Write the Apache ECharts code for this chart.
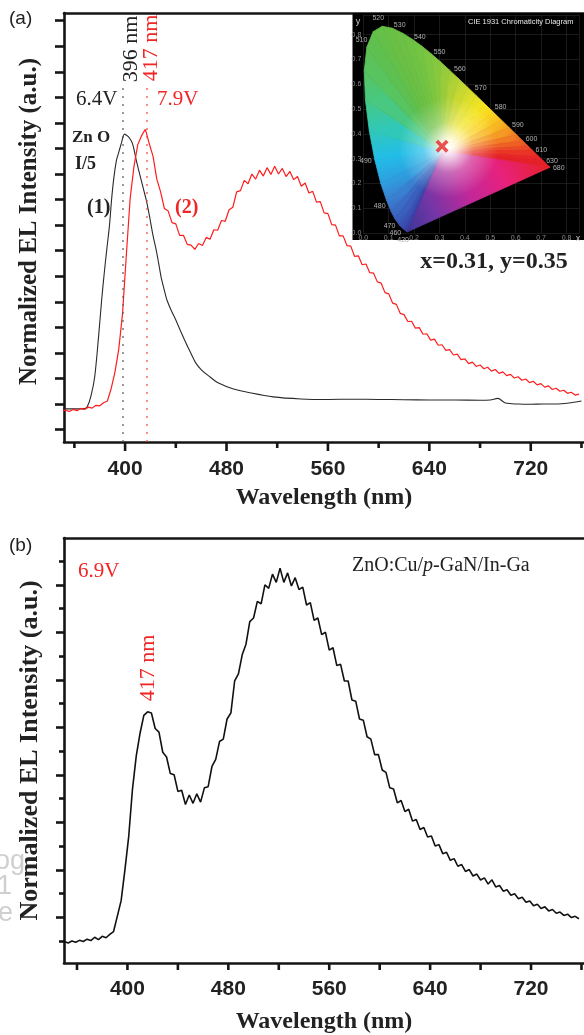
<!DOCTYPE html>
<html><head><meta charset="utf-8">
<script src="https://cdn.jsdelivr.net/npm/echarts@6/dist/echarts.min.js"></script>
<style>html,body{margin:0;padding:0;background:#fff}#c{width:584px;height:1035px}</style>
</head><body><div id="c"></div>
<script>
// ---------- DATA ----------
// sampling wavelengths (nm) for the noisy spectra
const WL = [350,353,356,359,362,365,368,371,374,377,380,383,386,389,392,395,398,401,404,407,410,413,416,419,422,425,428,431,434,437,440,443,446,449,452,455,458,461,464,467,470,473,476,479,482,485,488,491,494,497,500,503,506,509,512,515,518,521,524,527,530,533,536,539,542,545,548,551,554,557,560,563,566,569,572,575,578,581,584,587,590,593,596,599,602,605,608,611,614,617,620,623,626,629,632,635,638,641,644,647,650,653,656,659,662,665,668,671,674,677,680,683,686,689,692,695,698,701,704,707,710,713,716,719,722,725,728,731,734,737,740,743,746,749,752,755,758];
// panel (a) curve (2), 7.9 V (red)
const A_RED = [0.72,0.76,0.71,0.79,0.74,0.83,0.79,0.88,0.84,0.95,0.93,1.05,1.12,1.6,2.25,3.15,4.55,6.85,9.05,10.3,11.15,11.5,11.75,11.2,10.7,9.8,9.3,8.65,8.55,8.1,8.05,7.6,7.6,7.25,7.22,7.05,7.28,7.2,7.52,7.45,7.82,7.8,8.18,8.15,8.6,8.7,9.3,9.35,9.75,9.62,10.0,9.8,10.15,9.92,10.25,9.98,10.3,10.0,10.22,9.9,10.1,9.78,9.9,9.52,9.65,9.26,9.32,8.9,8.92,8.48,8.45,8.02,8.0,7.58,7.58,7.2,7.18,6.78,6.8,6.45,6.48,6.14,6.12,5.78,5.73,5.36,5.31,4.95,4.9,4.55,4.5,4.23,4.24,3.97,3.99,3.73,3.75,3.5,3.54,3.3,3.32,3.1,3.13,2.92,2.95,2.74,2.77,2.58,2.64,2.47,2.53,2.38,2.44,2.29,2.35,2.2,2.26,2.11,2.16,2.02,2.07,1.93,1.98,1.84,1.89,1.75,1.8,1.66,1.71,1.57,1.62,1.5,1.54,1.42,1.46,1.35,1.39];
// panel (b) spectrum, 6.9 V
const B_BLACK = [-0.02,-0.08,0.0,-0.05,0.03,-0.02,0.08,0.02,0.16,0.06,0.2,0.14,0.28,0.4,1.05,1.7,3.0,4.4,6.4,7.8,8.75,9.5,9.65,9.6,8.95,8.8,7.95,7.75,7.05,7.0,6.3,6.35,5.75,6.15,5.8,6.2,5.85,6.45,6.5,7.35,7.65,8.4,8.5,9.35,9.6,10.95,11.25,12.05,12.5,13.45,13.6,14.3,14.2,15.0,14.85,15.45,15.1,15.7,15.1,15.5,14.95,15.3,14.8,14.9,14.15,14.25,13.5,13.6,12.9,13.0,12.25,12.35,11.6,11.65,10.95,10.95,10.15,10.1,9.35,9.3,8.6,8.5,7.85,7.85,7.2,7.1,6.45,6.4,5.82,5.92,5.45,5.55,5.05,5.12,4.7,4.78,4.38,4.42,4.0,4.06,3.68,3.74,3.4,3.47,3.15,3.22,2.93,3.01,2.74,2.82,2.57,2.66,2.4,2.58,2.28,2.34,2.1,2.16,1.93,1.99,1.78,1.84,1.63,1.69,1.49,1.55,1.37,1.44,1.27,1.33,1.17,1.22,1.08,1.13,0.99,1.04,0.94];
// panel (a) curve (1), ZnO I/5, 6.4 V (black)
const A_BLACK_WL = [350,360,368,370,373,376,379,381.5,383.5,385.5,387.7,389.3,391,393.2,395,397,399.5,401.8,403.8,405.7,407.3,408.8,410.7,412.7,414.7,416.7,418.3,419.8,422,424.5,426.5,428.4,430.7,433,436.5,440,444,448,452,455.7,460,465.9,473.7,485.5,499.5,516.7,538.6,560,580,600,620,640,660,680,688,694,700,710,720,730,740,750,760];
const A_BLACK = [0.81,0.81,0.82,0.88,1.3,2.06,3.6,5.07,6.1,7.03,8.0,8.98,9.8,10.54,10.85,11.2,11.56,11.49,11.38,11.21,10.9,10.54,10.15,9.76,9.37,8.98,8.6,8.2,7.6,7.03,6.5,5.97,5.5,5.07,4.65,4.29,3.83,3.39,2.98,2.61,2.35,2.1,1.82,1.59,1.43,1.28,1.2,1.18,1.19,1.18,1.17,1.16,1.16,1.15,1.16,1.22,1.04,1.0,0.99,1.0,1.0,1.04,1.12];
// peak markers (nm)
const A_PEAK_MARKS = [398, 417];
// axis ticks / labels
const X_MAJOR = [400,480,560,640,720];
const X_MINOR = [360,440,520,600,680,760];
const X_LABELS = ['400','480','560','640','720'];
const A_Y_TICKS = [0,1,2,3,4,5,6,7,8,9,10,11,12,13,14,15,16];
const B_Y_MAJOR = [1,3,5,7,9,11,13,15];
const B_Y_MINOR = [0,2,4,6,8,10,12,14,16];
// CIE 1931 spectral locus (inset)
const CIE_WL = [380,420,440,450,460,470,475,480,485,490,495,500,505,510,515,520,525,530,535,540,545,550,555,560,565,570,575,580,585,590,595,600,605,610,620,630,640,680];
const CIE_X = [0.1741,0.1714,0.1644,0.1566,0.1440,0.1241,0.1096,0.0913,0.0687,0.0454,0.0235,0.0082,0.0039,0.0139,0.0389,0.0743,0.1142,0.1547,0.1929,0.2296,0.2658,0.3016,0.3373,0.3731,0.4087,0.4441,0.4788,0.5125,0.5448,0.5752,0.6029,0.6270,0.6482,0.6658,0.6915,0.7079,0.7190,0.7347];
const CIE_Y = [0.0050,0.0051,0.0109,0.0177,0.0297,0.0578,0.0868,0.1327,0.2007,0.2950,0.4127,0.5384,0.6548,0.7502,0.8120,0.8338,0.8262,0.8059,0.7816,0.7543,0.7243,0.6923,0.6589,0.6245,0.5896,0.5547,0.5202,0.4866,0.4544,0.4242,0.3965,0.3725,0.3514,0.3340,0.3083,0.2920,0.2809,0.2653];
const CIE_LABELED = [420,460,470,480,490,510,520,530,540,550,560,570,580,590,600,610,630,680];
const CIE_WHITE = [0.3127, 0.329];
const CIE_POINT = [0.31, 0.35];

// ---------- STYLE ----------
const CIE_COLORS = ['#3b3696','#3b3a9e','#3b40a8','#3a48ae','#3a52b4','#3a5fbc','#3a6cc4','#3a80d0','#2e9ede','#22bde8','#30c8b8','#48c880','#58c460','#5ec050','#62c04a','#66c046','#6ac045','#6cc045','#6ec244','#72c442','#7cc640','#86c83e','#98cc3a','#b0d236','#cad830','#e2e02a','#f4e420','#fad422','#f8b820','#f59a22','#f27c24','#ef6024','#ec4a26','#ea3426','#e82628','#e62228','#e62228','#e62228'];
const SERIF = 'Liberation Serif';
const SANS = 'Liberation Sans';
const RED = '#f02525';
const AXC = '#151515';

const zip = (a, b) => a.map((v, i) => [v, b[i]]);

const chart = echarts.init(document.getElementById('c'), null, {renderer: 'canvas'});

const A_MIN = 351.8, B_MIN = 349.7, X_MAX = 762;

function xMain(grid, min, nameGap) {
  return {
    type: 'value', gridIndex: grid, position: 'bottom', min: min, max: X_MAX,
    axisLine: {show: true, onZero: false, lineStyle: {color: AXC, width: 2.6}},
    axisTick: {show: false}, axisLabel: {show: false}, splitLine: {show: false},
    name: 'Wavelength (nm)', nameLocation: 'middle', nameGap: nameGap,
    nameTextStyle: {fontFamily: SERIF, fontWeight: 'bold', fontSize: 24, color: '#222', lineHeight: 24}
  };
}
function xTop(grid, min) {
  return {type: 'value', gridIndex: grid, position: 'top', min: min, max: X_MAX,
    axisLine: {show: true, onZero: false, lineStyle: {color: AXC, width: 2.6}},
    axisTick: {show: false}, axisLabel: {show: false}, splitLine: {show: false}};
}
// outward ticks + tick labels on the bottom x axis, placed through the axis scale
function xTickSeries(xIdx, yIdx, values, len, labels, labelGap) {
  return {type: 'custom', xAxisIndex: xIdx, yAxisIndex: yIdx, clip: false, silent: true, z: 20, zlevel: 1,
    encode: {x: 0, y: 1},
    data: values.map((v, i) => [v, 0, i]),
    renderItem: function (params, api) {
      const v = api.value(0), i = api.value(2);
      const x = api.coord([v, 0])[0];
      const yb = params.coordSys.y + params.coordSys.height;
      const children = [{type: 'rect', shape: {x: x - 1.3, y: yb, width: 2.6, height: len}, style: {fill: AXC}}];
      if (labels) {
        children.push({type: 'text', x: x, y: yb + labelGap,
          style: {text: labels[i], fill: '#222', fontFamily: SANS, fontWeight: 'bold', fontSize: 21, align: 'center', verticalAlign: 'middle'}});
      }
      return {type: 'group', children: children};
    }};
}

const option = {
  animation: false,
  backgroundColor: '#fff',
  grid: [
    {left: 64, top: 13, width: (X_MAX - A_MIN) * 1.279, height: 429, containLabel: false},
    {left: 64, top: 538, width: (X_MAX - B_MIN) * 1.278, height: 426, containLabel: false},
    {left: 363.3, top: 14.8, width: 0.85 * 254, height: 0.88 * 248, containLabel: false}
  ],
  xAxis: [
    xMain(0, A_MIN, 44),                  // 0
    xTop(0, A_MIN),                       // 1
    xMain(1, B_MIN, 47),                  // 2
    xTop(1, B_MIN),                       // 3
    {type: 'value', gridIndex: 2, min: 0, max: 0.85, interval: 0.1, z: 6,   // 4
      axisLine: {show: false}, axisTick: {show: false},
      axisLabel: {show: true, margin: 2, color: '#8c8c8c', fontSize: 7, fontFamily: SANS, formatter: v => v > 0.81 ? '' : v.toFixed(1)},
      splitLine: {show: true, lineStyle: {color: '#2b2b2b', width: 0.6}}}
  ],
  yAxis: [
    {type: 'value', gridIndex: 0, min: -0.485, max: 16.3,
      axisLine: {show: true, onZero: false, lineStyle: {color: AXC, width: 2.6}},
      axisTick: {show: true, length: 9, customValues: A_Y_TICKS, lineStyle: {color: AXC, width: 2.6}},
      axisLabel: {show: false}, splitLine: {show: false},
      name: 'Normalized EL Intensity (a.u.)', nameLocation: 'middle', nameGap: 22,
      nameTextStyle: {fontFamily: SERIF, fontWeight: 'bold', fontSize: 25, color: '#222', padding: [0, 0, 0, 12]}},
    {type: 'value', gridIndex: 1, min: -0.924, max: 16.97,
      axisLine: {show: true, onZero: false, lineStyle: {color: AXC, width: 2.6}},
      axisTick: {show: true, length: 8, customValues: B_Y_MAJOR, lineStyle: {color: AXC, width: 2.6}},
      axisLabel: {show: false}, splitLine: {show: false},
      name: 'Normalized EL Intensity (a.u.)', nameLocation: 'middle', nameGap: 21,
      nameTextStyle: {fontFamily: SERIF, fontWeight: 'bold', fontSize: 26, color: '#222'}},
    {type: 'value', gridIndex: 1, min: -0.924, max: 16.97, position: 'left',
      axisLine: {show: false}, axisTick: {show: true, length: 5, customValues: B_Y_MINOR, lineStyle: {color: AXC, width: 2.6}},
      axisLabel: {show: false}, splitLine: {show: false}},
    {type: 'value', gridIndex: 2, min: 0, max: 0.88, interval: 0.1, z: 6,
      axisLine: {show: false}, axisTick: {show: false},
      axisLabel: {show: true, margin: 2, color: '#8c8c8c', fontSize: 7, fontFamily: SANS, formatter: v => v > 0.81 ? '' : v.toFixed(1)},
      splitLine: {show: true, lineStyle: {color: '#2b2b2b', width: 0.6}}}
  ],
  series: [
    {type: 'line', xAxisIndex: 0, yAxisIndex: 0, data: zip(A_BLACK_WL, A_BLACK), showSymbol: false, smooth: 0.3,
      lineStyle: {color: '#2a2a2a', width: 1.1}, z: 2,
      markLine: {silent: true, symbol: ['none', 'none'], label: {show: false},
        lineStyle: {color: '#555', width: 1.6, type: [1.5, 6.5]},
        data: [[{coord: [A_PEAK_MARKS[0], 13.36]}, {coord: [A_PEAK_MARKS[0], -0.485]}]]}},
    {type: 'line', xAxisIndex: 0, yAxisIndex: 0, data: zip(WL, A_RED), showSymbol: false,
      lineStyle: {color: '#ff1c1c', width: 1.2}, z: 3,
      markLine: {silent: true, symbol: ['none', 'none'], label: {show: false},
        lineStyle: {color: '#f24040', width: 1.6, type: [1.5, 6.5]},
        data: [[{coord: [A_PEAK_MARKS[1], 13.36]}, {coord: [A_PEAK_MARKS[1], -0.485]}]]}},
    {type: 'line', xAxisIndex: 2, yAxisIndex: 1, data: zip(WL, B_BLACK), showSymbol: false,
      lineStyle: {color: '#111', width: 1.6}, z: 2},
    xTickSeries(0, 0, X_MAJOR, 9, X_LABELS, 27),
    xTickSeries(0, 0, X_MINOR, 6, null, 0),
    xTickSeries(2, 1, X_MAJOR, 7, X_LABELS, 26),
    xTickSeries(2, 1, X_MINOR, 7, null, 0),
    // inset: horseshoe wedges
    {type: 'custom', xAxisIndex: 4, yAxisIndex: 3, z: 7, silent: true,
      data: CIE_WL.map((w, i) => [i]),
      renderItem: function (params, api) {
        const i = api.value(0), n = CIE_WL.length, j = (i + 1) % n;
        const W = api.coord(CIE_WHITE);
        const P = api.coord([CIE_X[i], CIE_Y[i]]);
        const Q = api.coord([CIE_X[j], CIE_Y[j]]);
        let stops;
        if (j === 0) {
          stops = [{offset: 0, color: '#e62228'}, {offset: 0.3, color: '#e8217c'}, {offset: 0.55, color: '#c0289a'}, {offset: 0.8, color: '#7236a6'}, {offset: 1, color: '#3b3696'}];
        } else {
          stops = [{offset: 0, color: CIE_COLORS[i]}, {offset: 1, color: CIE_COLORS[j]}];
        }
        const g = new echarts.graphic.LinearGradient(P[0], P[1], Q[0], Q[1], stops, true);
        return {type: 'polygon', shape: {points: [W, P, Q]}, style: {fill: g, stroke: g, lineWidth: 0.8}};
      }},
    // inset: white centre
    {type: 'custom', xAxisIndex: 4, yAxisIndex: 3, z: 8, silent: true, data: [[0]],
      renderItem: function (params, api) {
        const W = api.coord([0.335, 0.345]);
        const g = new echarts.graphic.RadialGradient(W[0], W[1], 50, [
          {offset: 0, color: 'rgba(255,255,255,1)'}, {offset: 0.15, color: 'rgba(255,255,255,0.85)'},
          {offset: 0.5, color: 'rgba(255,255,255,0.3)'}, {offset: 1, color: 'rgba(255,255,255,0)'}], true);
        return {type: 'circle', shape: {cx: W[0], cy: W[1], r: 50}, style: {fill: g}};
      }},
    // inset: wavelength labels
    {type: 'custom', xAxisIndex: 4, yAxisIndex: 3, z: 9, silent: true,
      data: CIE_LABELED.map(w => [CIE_WL.indexOf(w)]),
      renderItem: function (params, api) {
        const i = api.value(0);
        const W = api.coord(CIE_WHITE);
        const P = api.coord([CIE_X[i], CIE_Y[i]]);
        const dx = P[0] - W[0], dy = P[1] - W[1], d = Math.hypot(dx, dy);
        return {type: 'text', x: P[0] + dx / d * 9, y: P[1] + dy / d * 9,
          style: {text: String(CIE_WL[i]), fill: '#b0b0b0', fontSize: 7, fontFamily: SANS, align: 'center', verticalAlign: 'middle'}};
      }},
    {type: 'scatter', xAxisIndex: 4, yAxisIndex: 3, z: 10, silent: true, data: [CIE_POINT],
      symbol: 'path://M2,0 L5,3 L8,0 L10,2 L7,5 L10,8 L8,10 L5,7 L2,10 L0,8 L3,5 L0,2 Z', symbolSize: 13,
      itemStyle: {color: '#e8252b'}}
  ],
  graphic: [
    {type: 'rect', z: 5, silent: true, shape: {x: 352.5, y: 13, width: 240, height: 227}, style: {fill: '#000'}},
    {type: 'text', z: 11, x: 468, y: 21.5, style: {text: 'CIE 1931 Chromaticity Diagram', fill: '#e8e8e8', fontSize: 7.5, fontFamily: SANS, verticalAlign: 'middle'}},
    {type: 'text', z: 11, x: 358, y: 21.5, style: {text: 'y', fill: '#c8c8c8', fontSize: 9, fontFamily: SANS, align: 'center', verticalAlign: 'middle'}},
    {type: 'text', z: 11, x: 578, y: 238.5, style: {text: 'x', fill: '#c8c8c8', fontSize: 9, fontFamily: SANS, align: 'center', verticalAlign: 'middle'}},
    {type: 'text', z: 11, x: 494, y: 262, style: {text: 'x=' + CIE_POINT[0] + ', y=' + CIE_POINT[1], fill: '#222', fontSize: 24, fontWeight: 'bold', fontFamily: SERIF, align: 'center', verticalAlign: 'middle'}},
    {type: 'text', z: 11, x: 9, y: 19, style: {text: '(a)', fill: '#222', fontSize: 19, fontFamily: SANS, verticalAlign: 'middle'}},
    {type: 'text', z: 11, x: 9, y: 546, style: {text: '(b)', fill: '#222', fontSize: 19, fontFamily: SANS, verticalAlign: 'middle'}},
    {type: 'text', z: 11, x: 76, y: 99, style: {text: '6.4V', fill: '#222', fontSize: 21, fontFamily: SERIF, verticalAlign: 'middle'}},
    {type: 'text', z: 11, x: 157, y: 99, style: {text: '7.9V', fill: RED, fontSize: 21, fontFamily: SERIF, verticalAlign: 'middle'}},
    {type: 'text', z: 11, x: 131, y: 49, rotation: Math.PI / 2, style: {text: '396 nm', fill: '#222', fontSize: 22, fontFamily: SERIF, align: 'center', verticalAlign: 'middle'}},
    {type: 'text', z: 11, x: 151, y: 48, rotation: Math.PI / 2, style: {text: '417 nm', fill: RED, fontSize: 22, fontFamily: SERIF, align: 'center', verticalAlign: 'middle'}},
    {type: 'text', z: 11, x: 72, y: 138, style: {text: 'Zn O', fill: '#222', fontSize: 17, fontWeight: 'bold', fontFamily: SERIF, verticalAlign: 'middle'}},
    {type: 'text', z: 11, x: 75, y: 164, style: {text: 'I/5', fill: '#222', fontSize: 18, fontWeight: 'bold', fontFamily: SERIF, verticalAlign: 'middle'}},
    {type: 'text', z: 11, x: 87, y: 208, style: {text: '(1)', fill: '#222', fontSize: 20, fontWeight: 'bold', fontFamily: SERIF, verticalAlign: 'middle'}},
    {type: 'text', z: 11, x: 175, y: 208, style: {text: '(2)', fill: RED, fontSize: 20, fontWeight: 'bold', fontFamily: SERIF, verticalAlign: 'middle'}},
    {type: 'text', z: 11, x: 78, y: 571, style: {text: '6.9V', fill: RED, fontSize: 21, fontFamily: SERIF, verticalAlign: 'middle'}},
    {type: 'text', z: 11, x: 352, y: 566, style: {text: 'ZnO:Cu/{i|p}-GaN/In-Ga', fill: '#222', fontSize: 20, fontFamily: SERIF, verticalAlign: 'middle',
      rich: {i: {fontStyle: 'italic', fontSize: 20, fontFamily: SERIF, fill: '#222'}}}},
    {type: 'text', z: 11, x: 148, y: 668, rotation: Math.PI / 2, style: {text: '417 nm', fill: RED, fontSize: 22, fontFamily: SERIF, align: 'center', verticalAlign: 'middle'}},
    {type: 'text', z: 11, x: -5, y: 862, style: {text: 'og', fill: '#cfcfcf', fontSize: 27, fontFamily: SANS, verticalAlign: 'middle'}},
    {type: 'text', z: 11, x: -3, y: 887, style: {text: '1', fill: '#cfcfcf', fontSize: 27, fontFamily: SANS, verticalAlign: 'middle'}},
    {type: 'text', z: 11, x: -2, y: 914, style: {text: 'e', fill: '#cfcfcf', fontSize: 27, fontFamily: SANS, verticalAlign: 'middle'}}
  ]
};
chart.setOption(option);
</script>
</body></html>
